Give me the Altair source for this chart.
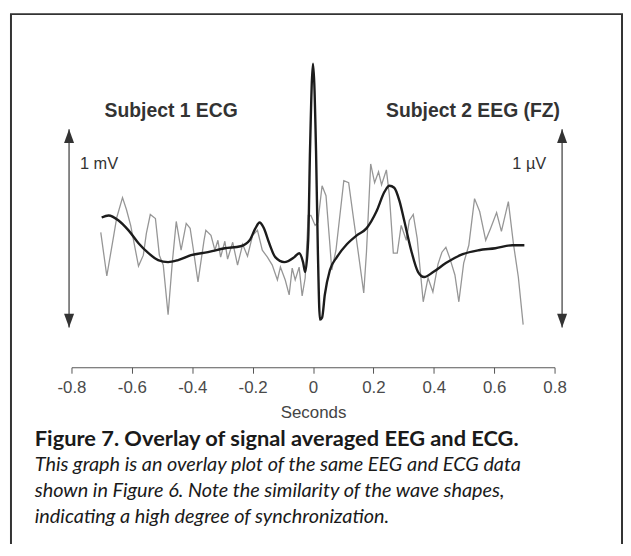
import altair as alt
import pandas as pd

# ECG (Subject 1) averaged trace: seconds, mV
ecg_t = [-0.700, -0.677, -0.644, -0.611, -0.578, -0.545, -0.513, -0.480, -0.447, -0.404,
         -0.348, -0.292, -0.240, -0.210, -0.191, -0.177, -0.164, -0.145, -0.125, -0.095,
         -0.062, -0.046, -0.033, -0.026, -0.016, -0.010, 0.000, 0.010, 0.016, 0.023,
         0.030, 0.039, 0.056, 0.079, 0.112, 0.145, 0.177, 0.210, 0.237, 0.253,
         0.269, 0.286, 0.302, 0.325, 0.348, 0.368, 0.398, 0.440, 0.496, 0.549,
         0.604, 0.660, 0.700]
ecg_v = [0.055, 0.065, 0.040, -0.010, -0.075, -0.125, -0.160, -0.170, -0.160, -0.135,
         -0.120, -0.100, -0.090, -0.060, 0.000, 0.030, 0.005, -0.075, -0.145, -0.170,
         -0.145, -0.125, -0.170, -0.220, -0.060, 0.390, 0.830, 0.390, -0.110, -0.460,
         -0.450, -0.335, -0.210, -0.145, -0.080, -0.035, 0.000, 0.085, 0.185, 0.215,
         0.205, 0.140, 0.040, -0.110, -0.220, -0.245, -0.220, -0.175, -0.130, -0.110,
         -0.100, -0.085, -0.085]

# EEG (Subject 2, FZ) averaged trace: seconds, uV
eeg_t = [-0.703, -0.683, -0.660, -0.650, -0.631, -0.618, -0.604, -0.578, -0.562, -0.552,
         -0.539, -0.522, -0.509, -0.496, -0.480, -0.466, -0.453, -0.437, -0.420, -0.407,
         -0.397, -0.381, -0.361, -0.355, -0.338, -0.325, -0.315, -0.306, -0.292, -0.283,
         -0.266, -0.250, -0.233, -0.217, -0.200, -0.184, -0.168, -0.151, -0.135, -0.118,
         -0.108, -0.092, -0.079, -0.069, -0.059, -0.046, -0.036, -0.026, -0.016, -0.007,
         0.007, 0.016, 0.030, 0.043, 0.056, 0.062, 0.076, 0.102, 0.118, 0.135,
         0.151, 0.168, 0.177, 0.191, 0.204, 0.217, 0.227, 0.243, 0.253, 0.266,
         0.279, 0.292, 0.309, 0.319, 0.332, 0.345, 0.365, 0.381, 0.397, 0.414,
         0.427, 0.440, 0.453, 0.470, 0.483, 0.499, 0.516, 0.535, 0.552, 0.572,
         0.588, 0.608, 0.624, 0.647, 0.664, 0.680, 0.696]
eeg_v = [-0.020, -0.240, -0.035, 0.055, 0.155, 0.095, 0.015, -0.190, -0.135, -0.025,
         0.070, 0.050, -0.135, -0.185, -0.435, -0.170, 0.035, -0.110, 0.025, 0.000,
         -0.100, -0.270, -0.060, -0.010, -0.035, -0.110, -0.060, -0.145, -0.065, -0.155,
         -0.070, -0.185, -0.080, -0.140, -0.035, -0.010, -0.110, -0.145, -0.185, -0.260,
         -0.195, -0.260, -0.335, -0.200, -0.260, -0.195, -0.340, -0.250, 0.065, 0.065,
         0.015, 0.030, 0.215, 0.165, -0.085, -0.210, -0.110, 0.240, 0.230, 0.040,
         -0.135, -0.325, -0.120, 0.325, 0.230, 0.285, 0.220, 0.295, 0.165, -0.125,
         -0.125, 0.015, -0.060, 0.040, 0.070, -0.050, -0.370, -0.250, -0.320, -0.180,
         -0.120, -0.095, -0.150, -0.235, -0.370, -0.175, -0.085, 0.150, 0.085, -0.060,
         0.000, 0.080, -0.015, 0.135, -0.080, -0.245, -0.485]

x_ticks = [-0.8, -0.6, -0.4, -0.2, 0.0, 0.2, 0.4, 0.6, 0.8]

# scale bars (1 mV / 1 uV) and labels
bar_t = [-0.808, 0.825]
bar_top = [0.5, 0.5]
bar_bottom = [-0.5, -0.5]
unit_labels = ["1 mV", "1 \u00b5V"]
unit_t = [-0.772, 0.660]
unit_v = [0.325, 0.325]
subject_labels = ["Subject 1 ECG", "Subject 2 EEG  (FZ)"]
subject_t = [-0.470, 0.530]
subject_v = [0.59, 0.59]

caption_title = "Figure 7. Overlay of signal averaged EEG and ECG."
caption_lines = [
    "This graph is an overlay plot of the same EEG and ECG data",
    "shown in Figure 6. Note the similarity of the wave shapes,",
    "indicating a high degree of synchronization.",
]

xs = alt.Scale(domain=[-0.8, 0.8], nice=False, zero=False)
ys = alt.Scale(domain=[-0.7, 1.0], nice=False, zero=False)
X = alt.X("t:Q", scale=xs)
Y = alt.Y("v:Q", scale=ys, axis=None)

eeg = pd.DataFrame({"t": eeg_t, "v": eeg_v})
ecg = pd.DataFrame({"t": ecg_t, "v": ecg_v})

eeg_line = alt.Chart(eeg).mark_line(color="#969696", strokeWidth=1.3).encode(
    x=alt.X("t:Q", scale=xs, title="Seconds",
            axis=alt.Axis(values=x_ticks, grid=False, tickSize=6, domainColor="#555555",
                          tickColor="#555555", labelColor="#4a4a4a", titleColor="#444444",
                          labelFont="Liberation Sans", titleFont="Liberation Sans",
                          labelFontSize=17, titleFontSize=17, titleFontWeight="normal",
                          labelPadding=6, titlePadding=10, labelFlush=False,
                          labelExpr="toString(round(datum.value*10)/10)")),
    y=Y,
)
ecg_line = alt.Chart(ecg).mark_line(color="#1c1c1c", strokeWidth=2.4,
                                    interpolate="monotone").encode(x=X, y=Y)

bars = pd.DataFrame({"t": bar_t, "v": bar_top, "v2": bar_bottom})
bar_rules = alt.Chart(bars).mark_rule(color="#6a6a6a", strokeWidth=1.6).encode(
    x=X, y=Y, y2="v2:Q")
head_up = alt.Chart(bars).mark_point(shape="M0,-1L0.72,1L-0.72,1Z", filled=True, size=196,
                                     opacity=1, color="#333333", yOffset=7).encode(x=X, y=Y)
head_down = alt.Chart(bars).mark_point(shape="M0,1L0.72,-1L-0.72,-1Z", filled=True, size=196,
                                       opacity=1, color="#333333", yOffset=-7).encode(
    x=X, y=alt.Y("v2:Q", scale=ys, axis=None))

units = pd.DataFrame({"t": unit_t, "v": unit_v, "label": unit_labels})
unit_text = alt.Chart(units).mark_text(align="left", baseline="middle", font="Liberation Sans",
                                       fontSize=16.5, color="#333333").encode(
    x=X, y=Y, text="label:N")

subjects = pd.DataFrame({"t": subject_t, "v": subject_v, "label": subject_labels})
subject_text = alt.Chart(subjects).mark_text(align="center", baseline="middle",
                                             font="Liberation Sans", fontSize=19.5,
                                             fontWeight="bold", color="#333333").encode(
    x=X, y=Y, text="label:N")

one = pd.DataFrame({"k": [0]})
frame = alt.Chart(one).mark_rect(fillOpacity=0, stroke="#333333", strokeWidth=2).encode(
    x=alt.value(-61), x2=alt.value(555), y=alt.value(-16), y2=alt.value(560))

cap_title = alt.Chart(pd.DataFrame({"s": [caption_title]})).mark_text(
    align="left", baseline="middle", font="Lato", fontSize=22, fontWeight="bold",
    color="#1a1a1a").encode(x=alt.value(-37), y=alt.value(412), text="s:N")

cap_layers = []
for i, line in enumerate(caption_lines):
    cap_layers.append(
        alt.Chart(pd.DataFrame({"s": [line]})).mark_text(
            align="left", baseline="middle", font="Lato", fontSize=20, fontStyle="italic",
            color="#1a1a1a").encode(x=alt.value(-37), y=alt.value(438.5 + 26.5 * i), text="s:N")
    )

chart = alt.layer(
    frame, eeg_line, ecg_line, bar_rules, head_up, head_down, unit_text, subject_text,
    cap_title, *cap_layers
).properties(
    width=487, height=340,
    background="white",
    autosize=alt.AutoSizeParams(type="none"),
    padding={"left": 64, "top": 20, "right": 69, "bottom": 176},
).configure_view(strokeWidth=0)

chart.save("out.html", embed_options={"renderer": "svg", "actions": False})
